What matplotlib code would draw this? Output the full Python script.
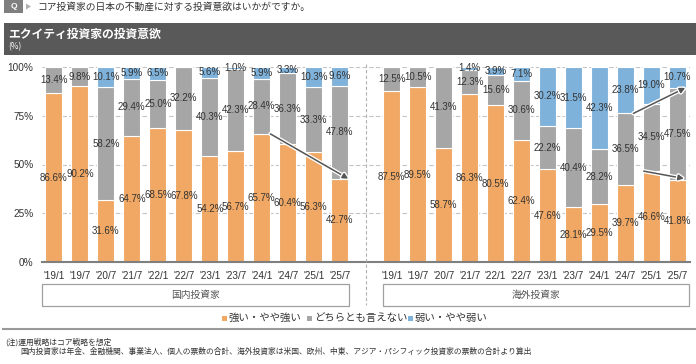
import matplotlib
matplotlib.use("Agg")
import matplotlib.pyplot as plt
import matplotlib.patheffects as pe
from matplotlib.patches import Rectangle, Polygon
from matplotlib.lines import Line2D

plt.rcParams['font.family'] = ['Noto Sans CJK JP', 'DejaVu Sans']

# データ (%)
periods = ["'19/1", "'19/7", "'20/7", "'21/7", "'22/1", "'22/7",
           "'23/1", "'23/7", "'24/1", "'24/7", "'25/1", "'25/7"]
dom_strong = [86.6, 90.2, 31.6, 64.7, 68.5, 67.8, 54.2, 56.7, 65.7, 60.4, 56.3, 42.7]
dom_neutral = [13.4, 9.8, 58.2, 29.4, 25.0, 32.2, 40.3, 42.3, 28.4, 36.3, 33.3, 47.8]
dom_weak = [0, 0, 10.1, 5.9, 6.5, 0, 5.6, 1.0, 5.9, 3.3, 10.3, 9.6]
ovs_strong = [87.5, 89.5, 58.7, 86.3, 80.5, 62.4, 47.6, 28.1, 29.5, 39.7, 46.6, 41.8]
ovs_neutral = [12.5, 10.5, 41.3, 12.3, 15.6, 30.6, 22.2, 40.4, 28.2, 36.5, 34.5, 47.5]
ovs_weak = [0, 0, 0, 1.4, 3.9, 7.1, 30.2, 31.5, 42.3, 23.8, 19.0, 10.7]
groups = ["国内投資家", "海外投資家"]
series = ["強い・やや強い", "どちらとも言えない", "弱い・やや弱い"]
colors = ["#F0A864", "#A6A6A6", "#7FB2DA"]

W, H = 696, 364
fig = plt.figure(figsize=(W / 100, H / 100), dpi=100)


def fx(x):
    return x / W


def fy(y):
    return 1 - y / H


ax = fig.add_axes([fx(41.7), fy(262), fx(690) - fx(41.7), fy(67) - fy(262)])

n = len(periods)
pos_dom = list(range(n))
pos_ovs = [p + n + 1 for p in range(n)]
bw = 0.65
num_font = ['Liberation Sans', 'DejaVu Sans']

for pos, vals in [(pos_dom, [dom_strong, dom_neutral, dom_weak]),
                  (pos_ovs, [ovs_strong, ovs_neutral, ovs_weak])]:
    bottom = [0] * n
    for vi, v in enumerate(vals):
        ax.bar(pos, v, bw, bottom=bottom, color=colors[vi], edgecolor='white',
               linewidth=0.8, zorder=3)
        for i in range(n):
            if v[i] > 0:
                ax.text(pos[i], bottom[i] + v[i] / 2, f"{v[i]:.1f}%", ha='center',
                        va='center', fontsize=7.0, color='#333333',
                        family=num_font, zorder=5)
        bottom = [b + x for b, x in zip(bottom, v)]

ax.set_xlim(-0.47, 2 * n + 0.48)
ax.set_ylim(0, 100)
ax.set_yticks([0, 25, 50, 75, 100])
ax.set_yticklabels(["0%", "25%", "50%", "75%", "100%"], family=num_font)
ax.set_xticks(pos_dom + pos_ovs)
ax.set_xticklabels(periods + periods, family=num_font)
ax.tick_params(axis='both', length=0, labelsize=7.2, colors='#333333')
ax.tick_params(axis='y', pad=6)
ax.tick_params(axis='x', pad=6.5)
for s in ['top', 'right', 'left']:
    ax.spines[s].set_visible(False)
ax.spines['bottom'].set_color('#7f7f7f')
ax.spines['bottom'].set_linewidth(1.5)
ax.spines['bottom'].set_zorder(6)
for g in [25, 50, 75, 100]:
    ax.axhline(g, color='#c4c4c4', lw=0.8, ls=(0, (4, 2)), zorder=1)


def arrow(p0, p1):
    a = ax.annotate('', xy=p1, xytext=p0,
                    arrowprops=dict(arrowstyle='-|>', color='#555555', lw=1.1,
                                    mutation_scale=8, shrinkA=0, shrinkB=0),
                    zorder=7)
    a.arrow_patch.set_path_effects([pe.Stroke(linewidth=3, foreground='white'), pe.Normal()])


arrow((pos_dom[8] + 0.33, dom_strong[8]), (pos_dom[11] + 0.33, dom_strong[11]))
arrow((pos_ovs[9] + 0.3, ovs_strong[9] + ovs_neutral[9]),
      (pos_ovs[11] + 0.3, ovs_strong[11] + ovs_neutral[11]))
arrow((pos_ovs[10] - 0.3, ovs_strong[10]), (pos_ovs[11] + 0.25, ovs_strong[11] + 1))

# 区切り線・グループ枠
fig.add_artist(Line2D([fx(366), fx(366)], [fy(64), fy(305)], color='#b0b0b0',
                      lw=0.8, ls=(0, (3, 2))))
for (x0, x1), g in zip([(41.7, 349), (383, 689)], groups):
    fig.add_artist(Rectangle((fx(x0), fy(306)), fx(x1) - fx(x0), fy(284) - fy(306),
                             facecolor='white', edgecolor='#a0a0a0', lw=0.9))
    fig.text(fx((x0 + x1) / 2), fy(295), g, ha='center', va='center',
             fontsize=7, color='#555555')

# 凡例
leg_x = [224, 309, 410]
for x, lab, c in zip(leg_x, series, colors):
    fig.add_artist(Rectangle((fx(x - 2.5), fy(320.5)), fx(5), 5 / H, facecolor=c,
                             edgecolor='none'))
    fig.text(fx(x + 5), fy(318), lab, ha='left', va='center', fontsize=7.5,
             color='#333333')

fig.add_artist(Line2D([fx(3), fx(696)], [fy(329), fy(329)], color='#999999', lw=1.5))

fig.text(fx(5), fy(342), "(注)運用戦略はコア戦略を想定", fontsize=5.6, va='center',
         color='#333333')
fig.text(fx(20), fy(352),
         "国内投資家は年金、金融機関、事業法人、個人の票数の合計、海外投資家は米国、欧州、中東、アジア・パシフィック投資家の票数の合計より算出",
         fontsize=5.6, va='center', color='#333333')

# ヘッダー
fig.add_artist(Rectangle((fx(4), fy(13)), fx(19), 13 / H, facecolor='#7f7f7f',
                         edgecolor='none'))
fig.text(fx(13.5), fy(6.5), "Q", ha='center', va='center', fontsize=6,
         color='white', weight='bold', family=num_font)
fig.add_artist(Polygon([(fx(26), fy(3.5)), (fx(31), fy(6.5)), (fx(26), fy(9.5))],
                       closed=True, facecolor='#b0b0b0', edgecolor='none'))
fig.text(fx(37), fy(6.5), "コア投資家の日本の不動産に対する投資意欲はいかがですか。",
         ha='left', va='center', fontsize=7, color='#333333')

fig.add_artist(Rectangle((fx(4), fy(55)), fx(692), 32 / H, facecolor='#595959',
                         edgecolor='none'))
fig.text(fx(8), fy(34), "エクイティ投資家の投資意欲", ha='left', va='center',
         fontsize=8.5, color='white', weight='bold')
fig.text(fx(8), fy(47), "(%)", ha='left', va='center', fontsize=6, color='white')

fig.savefig("out.png", dpi=100)
